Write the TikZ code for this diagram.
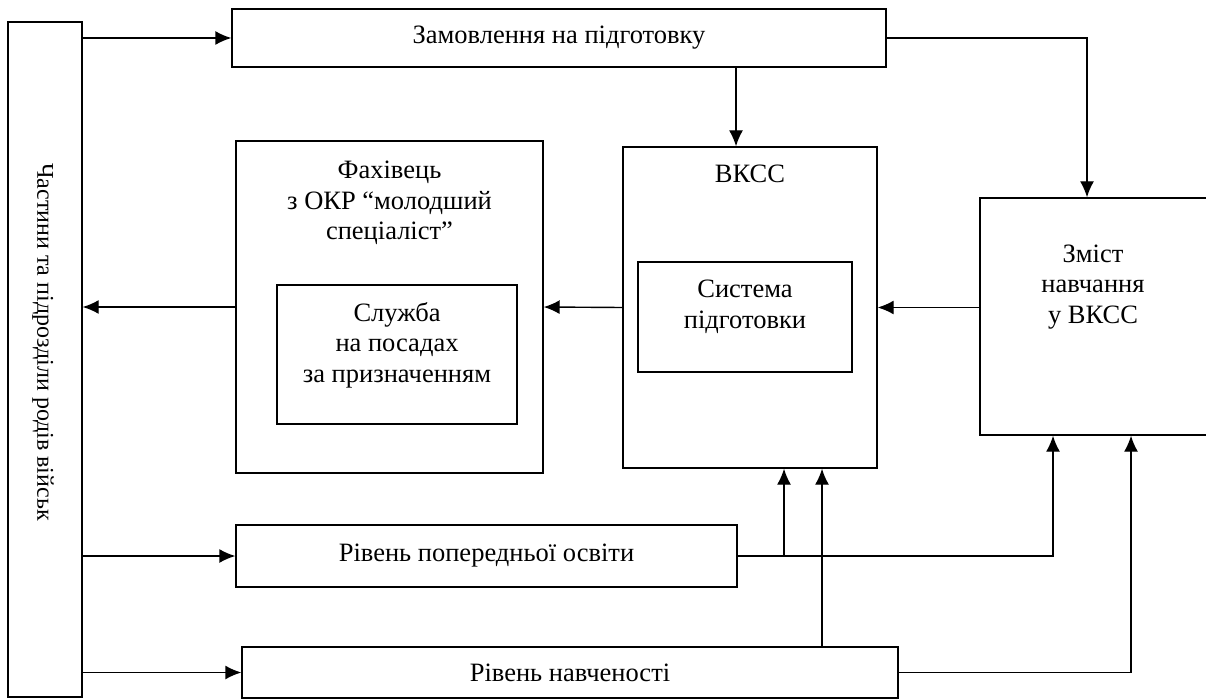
\documentclass[tikz,border=0pt]{standalone}
\usepackage{fontspec}
\setmainfont{Liberation Serif}
\usetikzlibrary{positioning}
\usetikzlibrary{arrows.meta}

\begin{document}
\begin{tikzpicture}[x=1pt,y=-1pt,>={Latex[length=16pt,width=14pt]},line width=1.4pt,
		rect/.style={draw=black,
				rectangle,
				inner sep=0pt,
				align=center,
				font=\fontsize{26.5}{30.5}\selectfont},
		txt/.style={inner sep=0pt,
				align=center,
				font=\fontsize{26.5}{30.5}\selectfont}]
			\useasboundingbox (0,0) rectangle (1206,700);
			\node[rect, minimum width=74pt, minimum height=675pt] (units) at (45,359.5) {};
			\node[txt, rotate=-90, font=\fontsize{24}{28}\selectfont] (unitstxt) at (43,342) {Частини та підрозділи родів військ};
			\node[rect, minimum width=654pt, minimum height=58pt] (zam) at (559,38) {Замовлення на підготовку};
			\node[rect, minimum width=307pt, minimum height=332pt] (fah) at (389.5,307) {};
			\node[txt, below=20pt of fah.north] (fahtxt) {Фахівець\\з ОКР “молодший\\спеціаліст”};
			\node[rect, minimum width=240pt, minimum height=139pt] (sluzh) at (397,354.5) {};
			\node[txt] (sluzhtxt) at (397,345) {Служба\\на посадах\\за призначенням};
			\node[rect, minimum width=254pt, minimum height=321pt] (vkss) at (750,307.5) {};
			\node[txt, below=18pt of vkss.north] (vksstxt) {ВКСС};
			\node[rect, minimum width=214pt, minimum height=110pt] (syst) at (745,317) {};
			\node[txt] (systtxt) at (745,307) {Система\\підготовки};
			\node[rect, minimum width=235pt, minimum height=237pt] (zmist) at (1097.5,316.5) {};
			\node[txt] (zmisttxt) at (1093,287) {Зміст\\навчання\\у ВКСС};
			\node[rect, minimum width=501pt, minimum height=62pt] (pop) at (486.5,556) {Рівень попередньої освіти};
			\node[rect, minimum width=656pt, minimum height=51pt] (nav) at (570,672.5) {Рівень навченості};
			% from units
			\draw[->] (units.east |- zam.west) -- (zam.west);
			\draw[->] (units.east |- pop.west) -- (pop.west);
			\draw[->] (units.east |- nav.west) -- (nav.west);
			\draw[->] (fah.west) -- (units.east |- fah.west);
			% order and content
			\draw[->] ([xshift=-14pt]vkss.north |- zam.south) -- ([xshift=-14pt]vkss.north);
			\draw[->] (zam.east) -| ([xshift=-10.5pt]zmist.north);
			\draw[->] (vkss.west) -- (fah.east);
			\draw[->] (zmist.west |- vkss.east) -- (vkss.east);
			% levels
			\draw[->] (pop.east) -| ([xshift=-44.5pt]zmist.south);
			\draw[->] ([xshift=34pt]vkss.south |- pop.east) -- ([xshift=34pt]vkss.south);
			\draw[->] (nav.east) -| ([xshift=33.5pt]zmist.south);
			\draw[->] ([xshift=72pt]vkss.south |- nav.north) -- ([xshift=72pt]vkss.south);
		\end{tikzpicture}
\end{document}
